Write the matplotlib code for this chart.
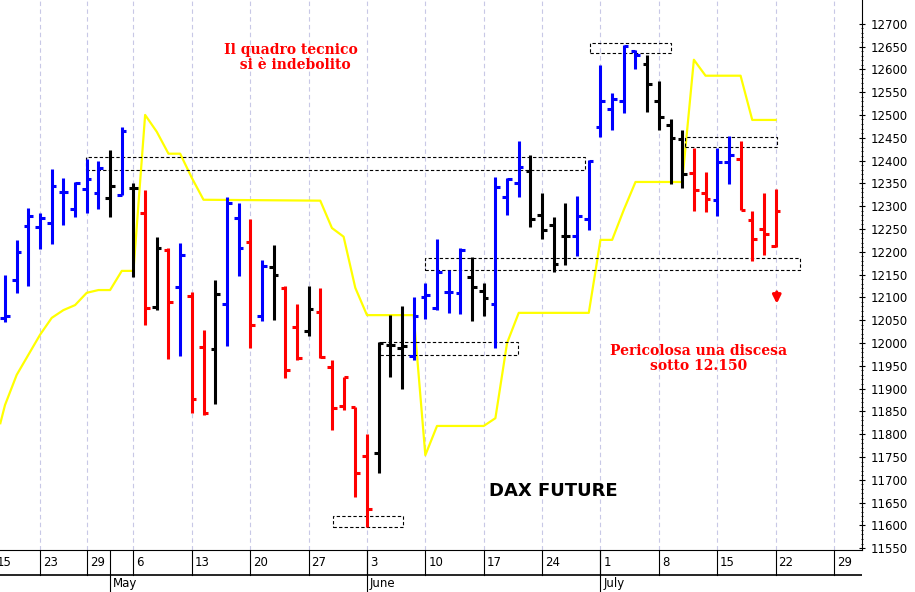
import matplotlib
matplotlib.use("Agg")
import matplotlib.pyplot as plt
from matplotlib.patches import Rectangle

# daily OHLC of the DAX future, trading-day index 0 = 16 Apr 2019
highs = [12149, 12226, 12296, 12285, 12382, 12362, 12353, 12404, 12398, 12423,
         12474, 12351, 12336, 12233, 12209, 12220, 12112, 12029, 12138, 12320,
         12307, 12272, 12182, 12215, 12125, 12085, 12125, 12121, 11963, 11925,
         11860, 11800, 12002, 12061, 12081, 12101, 12132, 12228, 12160, 12209,
         12189, 12132, 12364, 12362, 12443, 12413, 12329, 12277, 12307, 12323,
         12402, 12610, 12549, 12654, 12643, 12632, 12575, 12492, 12466, 12428,
         12375, 12428, 12454, 12443, 12290, 12329, 12338]
lows = [12046, 12110, 12125, 12206, 12217, 12259, 12277, 12285, 12294, 12277,
        12325, 12145, 12039, 12072, 11965, 11971, 11846, 11842, 11866, 11993,
        12147, 11989, 12048, 12050, 11923, 11963, 12015, 11967, 11809, 11853,
        11662, 11596, 11715, 11925, 11899, 11963, 12053, 12072, 12066, 12064,
        12048, 12059, 11989, 12281, 12320, 12255, 12228, 12156, 12171, 12191,
        12248, 12452, 12468, 12505, 12601, 12507, 12468, 12349, 12340, 12290,
        12287, 12279, 12349, 12292, 12180, 12193, 12211]
opens = [12055, 12138, 12257, 12255, 12263, 12332, 12294, 12338, 12329, 12318,
         12325, 12340, 12285, 12079, 12204, 12123, 12103, 11991, 11987, 12085,
         12274, 12221, 12060, 12166, 12121, 12035, 12027, 12068, 11947, 11862,
         11860, 11752, 11759, 11995, 11989, 11971, 12101, 12077, 12112, 12110,
         12145, 12114, 12085, 12320, 12351, 12377, 12281, 12259, 12235, 12235,
         12272, 12474, 12514, 12531, 12641, 12612, 12531, 12479, 12448, 12373,
         12329, 12314, 12397, 12404, 12270, 12250, 12213]
closes = [12060, 12200, 12279, 12274, 12345, 12332, 12351, 12360, 12384, 12345,
          12465, 12340, 12076, 12209, 12090, 12193, 11877, 11846, 12107, 12307,
          12209, 12039, 12169, 12149, 11941, 11967, 12075, 11969, 11857, 11925,
          11715, 11636, 12000, 11995, 11993, 12059, 12105, 12156, 12112, 12204,
          12123, 12099, 12342, 12360, 12386, 12272, 12248, 12173, 12235, 12279,
          12399, 12531, 12536, 12652, 12632, 12568, 12496, 12450, 12371, 12336,
          12316, 12397, 12413, 12292, 12228, 12239, 12290]
colors = (["b"] * 9 + ["k", "b", "k", "r", "k", "r", "b", "r", "r", "k", "b",
           "b", "r", "b", "k", "r", "r", "k", "r", "r", "r", "r", "r",
           "k", "k", "k"] + ["b"] * 5 + ["k", "k", "b", "b", "b"]
          + ["k"] * 4 + ["b"] * 6 + ["k"] * 4 + ["r", "r", "b", "b"] + ["r"] * 4)
col_map = {"b": "#0000ff", "r": "#ff0000", "k": "black"}

# yellow stop line
stop_x = [-0.4, 0, 1, 2, 3, 4, 5, 6, 7, 8, 9, 10, 11, 12, 13, 14, 15, 16, 17,
          27, 28, 29, 30, 31, 35, 36, 37, 41, 42, 43, 44, 50, 51, 52, 53, 54,
          58, 59, 60, 63, 64, 66]
stop_y = [11824, 11864, 11930, 11974, 12018, 12055, 12072, 12083, 12110, 12116,
          12116, 12158, 12158, 12500, 12463, 12415, 12415, 12362, 12314,
          12312, 12252, 12233, 12121, 12061, 12061, 11754, 11818, 11818, 11835,
          12000, 12066, 12066, 12226, 12226, 12292, 12353,
          12353, 12621, 12586, 12586, 12489, 12489]

# dashed boxes: (start day, end day, low, high)
boxes = [(6.9, 49.7, 12380, 12408), (50.1, 57.0, 12636, 12658),
         (58.2, 66.1, 12430, 12452), (36.0, 68.1, 12160, 12186),
         (32.1, 43.9, 11973, 12002), (28.1, 34.1, 11596, 11620)]

week_pos = [-1, 3, 7, 11, 16, 21, 26, 31, 36, 41, 46, 51, 56, 61, 66, 71]
week_lbl = ["15", "23", "29", "6", "13", "20", "27", "3", "10", "17", "24",
            "1", "8", "15", "22", "29"]
month_pos = [9, 31, 51]
month_lbl = ["May", "June", "July"]

W, H = 915, 592
fig = plt.figure(figsize=(W / 100, H / 100), dpi=100)
ax = fig.add_axes([0, 1 - 550 / H, 862 / W, 550 / H])
x0, x1 = -0.43, 73.4
ax.set_xlim(x0, x1)
ax.set_ylim(11546, 12752)

for p in week_pos:
    ax.axvline(p, color="#c8c8e6", lw=0.8, ls=(0, (4, 3)), zorder=0)

ax.plot(stop_x, stop_y, color="#ffff00", lw=1.6, zorder=1)

for s, e, lo, hi in boxes:
    ax.add_patch(Rectangle((s, lo), e - s, hi - lo, fill=False, ec="black",
                           lw=0.8, ls=(0, (3, 2)), zorder=2))

for i in range(len(highs)):
    c = col_map[colors[i]]
    ax.plot([i, i], [lows[i], highs[i]], color=c, lw=2.2, solid_capstyle="butt", zorder=3)
    ax.plot([i - 0.4, i], [opens[i], opens[i]], color=c, lw=2.2, solid_capstyle="butt", zorder=3)
    ax.plot([i, i + 0.4], [closes[i], closes[i]], color=c, lw=2.2, solid_capstyle="butt", zorder=3)

ax.text(0.337, 0.895, "Il quadro tecnico\n  si è indebolito", transform=ax.transAxes,
        color="red", fontsize=10, fontweight="bold", family="DejaVu Serif",
        ha="center", va="center", linespacing=1.1)
ax.text(0.81, 0.348, "Pericolosa una discesa\nsotto 12.150", transform=ax.transAxes,
        color="red", fontsize=10, fontweight="bold", family="DejaVu Serif",
        ha="center", va="center", linespacing=1.1)
ax.text(0.642, 0.107, "DAX FUTURE", transform=ax.transAxes, color="black",
        fontsize=13, fontweight="bold", ha="center", va="center")
ax.annotate("", xy=(66.1, 12080), xytext=(66.1, 12118),
            arrowprops=dict(arrowstyle="-|>", color="red", lw=2.2, mutation_scale=12))

for sp in ["top", "left"]:
    ax.spines[sp].set_visible(False)
ax.yaxis.tick_right()
ax.set_yticks(range(11550, 12701, 50))
ax.set_yticks(range(11550, 12701, 10), minor=True)
ax.tick_params(axis="y", which="major", length=5, labelsize=8.5, direction="inout")
ax.tick_params(axis="y", which="minor", length=2, direction="inout")
ax.set_xticks([])

# date rows below the plot
lab = fig.add_axes([0, 0, 862 / W, 1 - 550 / H])
lab.set_xlim(x0, x1)
lab.set_ylim(0, 42)
lab.axis("off")
lab.axhline(17, color="black", lw=1.2)
for p, t in zip(week_pos, week_lbl):
    lab.plot([p, p], [17, 42], color="black", lw=0.8)
    lab.text(p + 0.25, 29, t, fontsize=8.5, ha="left", va="center")
for p, t in zip(month_pos, month_lbl):
    lab.plot([p, p], [0, 42], color="black", lw=0.8)
    lab.text(p + 0.25, 8, t, fontsize=8.5, ha="left", va="center")

fig.savefig("out.png", dpi=100)
